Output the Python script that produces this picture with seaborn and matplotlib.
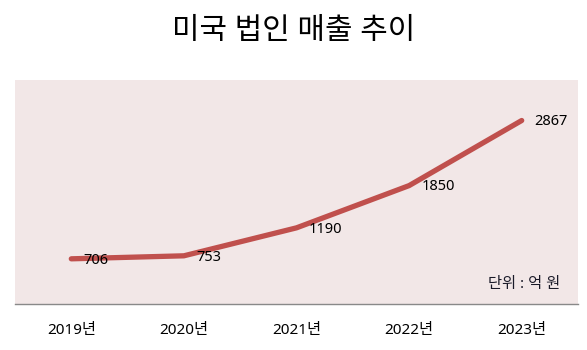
import matplotlib
matplotlib.use("Agg")
import matplotlib.pyplot as plt
import seaborn as sns
import pandas as pd

years = ["2019년", "2020년", "2021년", "2022년", "2023년"]
sales = [706, 753, 1190, 1850, 2867]

sns.set_theme(style="white")
plt.rcParams["font.family"] = ["Noto Sans", "Noto Sans CJK KR", "DejaVu Sans"]

df = pd.DataFrame({"year": years, "sales": sales})

fig = plt.figure(figsize=(5.87, 3.5), dpi=100)
ax = fig.add_axes([15 / 587, 46 / 350, 563 / 587, 224 / 350])
ax.set_facecolor("#F2E7E7")

sns.lineplot(data=df, x="year", y="sales", ax=ax, color="#C0504D",
             linewidth=3.8, solid_capstyle="round", solid_joinstyle="round",
             sort=False)

for i, v in enumerate(sales):
    ax.annotate(str(v), (i, v), xytext=(9, -1), textcoords="offset points",
                ha="left", va="center", fontsize=10.5, color="#000000")

ax.set_xlim(-0.5, len(years) - 0.5)
ax.set_ylim(0, 3500)
ax.set_yticks([])
ax.set_xlabel("")
ax.set_ylabel("")
ax.tick_params(axis="x", length=0, pad=14, labelsize=11, colors="#000000")

for s in ["top", "left", "right"]:
    ax.spines[s].set_visible(False)
ax.spines["bottom"].set_color("#898989")
ax.spines["bottom"].set_linewidth(1.0)

ax.text(0.968, 0.085, "단위 : 억 원", transform=ax.transAxes, ha="right",
        va="center", fontsize=11, color="#1A1A28")

fig.text(0.5, 0.91, "미국 법인 매출 추이", ha="center", va="center",
         fontsize=21.5, color="#000000")

fig.savefig("out.png", dpi=100)
